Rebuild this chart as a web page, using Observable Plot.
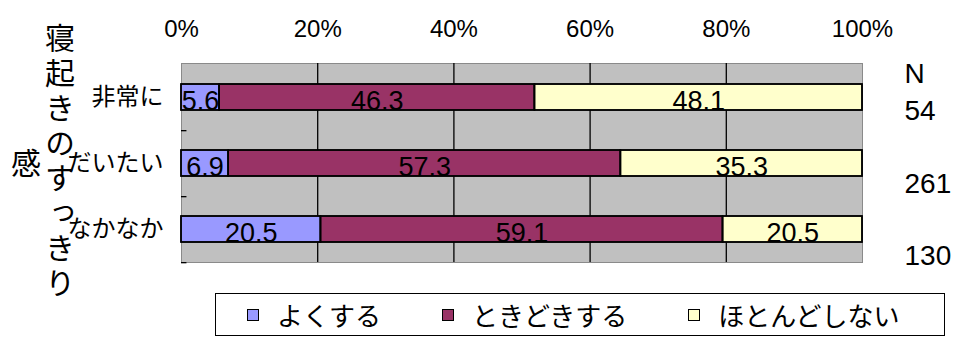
<!DOCTYPE html>
<html><head><meta charset="utf-8">
<script src="https://cdn.jsdelivr.net/npm/d3@7"></script>
<script src="https://cdn.jsdelivr.net/npm/@observablehq/plot@0.6"></script>
<style>
body{margin:0;background:#fff;}
#wrap{position:relative;width:955px;height:338px;overflow:hidden;}
#legend{position:absolute;left:215px;top:293px;width:730px;height:43px;box-sizing:border-box;border:1.5px solid #000;display:flex;align-items:center;padding-left:31px;gap:61px;font-family:"Noto Sans CJK JP",sans-serif;font-size:26px;color:#000;background:#fff;}
.item{display:flex;align-items:center;white-space:nowrap;}
.sw{width:10px;height:10px;border:1px solid #000;margin-right:18px;}
</style></head><body><div id="wrap"></div>
<script>
const categories = ["非常に", "だいたい", "なかなか"];
const series = ["よくする", "ときどきする", "ほとんどしない"];
const oftenValues = [5.6, 6.9, 20.5];
const sometimesValues = [46.3, 57.3, 59.1];
const rarelyValues = [48.1, 35.3, 20.5];
const nHeader = "N";
const nValues = [54, 261, 130];
const xTicks = [0, 0.2, 0.4, 0.6, 0.8, 1];
const colors = ["#9999ff", "#993366", "#ffffcc"];
const titleLines = ["寝起きのすっきり", "感"];

const seriesValues = [oftenValues, sometimesValues, rarelyValues];
const table = categories.flatMap((c, i) =>
  series.map((s, j) => ({category: c, series: s, value: seriesValues[j][i]})));
const stackOpts = {x: "value", y: "category", z: "series", offset: "normalize"};
const nText = [nHeader, ...nValues.flatMap((n, i) => i ? ["", String(n)] : [String(n)])].join("\n");

const svg = Plot.plot({
  width: 955, height: 338,
  marginLeft: 181, marginRight: 93, marginTop: 63, marginBottom: 76,
  style: {background: "#fff", color: "#000", fontFamily: "'Liberation Sans','Noto Sans CJK JP',sans-serif", fontSize: "24px", overflow: "visible"},
  x: {axis: "top", domain: [0, 1], ticks: xTicks, tickFormat: d3.format(".0%"), tickSize: 0, tickPadding: 27, line: true, label: null},
  y: {domain: categories, paddingInner: 0.608, paddingOuter: 0.304, tickSize: 0, tickPadding: 18, line: true, label: null},
  color: {domain: series, range: colors},
  marks: [
    Plot.frame({fill: "#c0c0c0", stroke: "#8a8a8a"}),
    Plot.ruleX(xTicks.slice(1, -1), {stroke: "#000", strokeWidth: 1.3}),
    Plot.ruleY(categories, {dy: 33.17, x1: 0, x2: 0.008, stroke: "#000", strokeWidth: 1.3}),
    Plot.barX(table, Plot.stackX({...stackOpts, fill: "series", stroke: "#000", strokeWidth: 1.5})),
    Plot.text(table, Plot.stackX({...stackOpts, text: d => d.value.toFixed(1), fontSize: 27, dy: 4, fill: "#000"})),
    Plot.barX(table, Plot.stackX({...stackOpts, fill: "none", stroke: "#000", strokeWidth: 1.5})),
    Plot.text([nText], {text: d => d, frameAnchor: "top-right", textAnchor: "start", lineAnchor: "top", dx: 42, dy: -6, lineHeight: 1.3, fontSize: 28, fill: "#000"})
  ]
});

const sel = d3.select(svg);
const titleX = [60, 26];
const titleY = [163, 165];
titleLines.forEach((t, i) => {
  sel.append("text")
    .attr("x", titleX[i]).attr("y", titleY[i])
    .attr("text-anchor", "middle")
    .style("writing-mode", "vertical-rl")
    .style("text-orientation", "upright")
    .style("font-family", "'Noto Sans CJK JP'")
    .style("font-size", "30px")
    .style("letter-spacing", "5px")
    .attr("fill", "#000")
    .text(t);
});

const wrap = document.getElementById("wrap");
wrap.appendChild(svg);
const legend = document.createElement("div");
legend.id = "legend";
series.forEach((s, i) => {
  const item = document.createElement("div");
  item.className = "item";
  const sw = document.createElement("span");
  sw.className = "sw";
  sw.style.background = colors[i];
  const label = document.createElement("span");
  label.textContent = s;
  item.appendChild(sw);
  item.appendChild(label);
  legend.appendChild(item);
});
wrap.appendChild(legend);
</script></body></html>
